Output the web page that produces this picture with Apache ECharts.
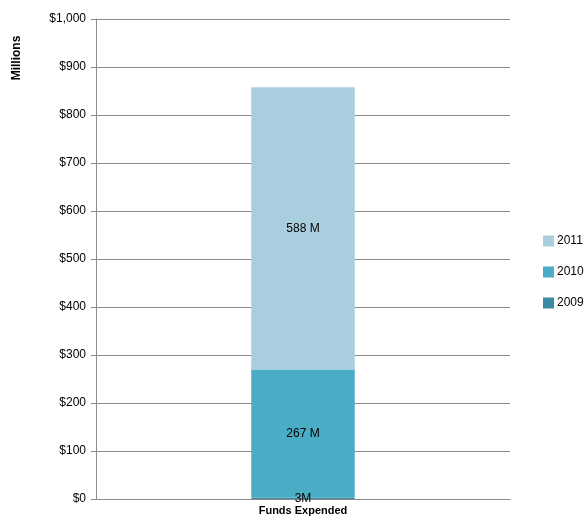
<!DOCTYPE html>
<html>
<head>
<meta charset="utf-8">
<script src="https://cdn.jsdelivr.net/npm/echarts@6/dist/echarts.min.js"></script>
<style>
  html, body { margin: 0; padding: 0; background: #fff; }
  #chart { width: 585px; height: 521px; }
</style>
</head>
<body>
<div id="chart"></div>
<script>
// 数据
const categories = ['Funds Expended'];
const seriesNames = ['2009', '2010', '2011'];
const values2009 = [3];
const values2010 = [267];
const values2011 = [588];
const labelFmt = { '2009': '3M', '2010': '267 M', '2011': '588 M' };
const colors = { '2009': '#3A8CA3', '2010': '#4BACC6', '2011': '#A9CEDD' };

const dataMap = { '2009': values2009, '2010': values2010, '2011': values2011 };
const font = 'Liberation Sans, Arial, sans-serif';

const myChart = echarts.init(document.getElementById('chart'));
let option = {
  animation: false,
  textStyle: { fontFamily: font },
  grid: { left: 96, right: 75, top: 19, bottom: 22 },
  legend: {
    orient: 'vertical',
    left: 538,
    top: 230,
    itemWidth: 11,
    itemHeight: 11,
    itemGap: 19,
    icon: 'rect',
    data: ['2011', '2010', '2009'],
    textStyle: { fontSize: 12, color: '#000', padding: [0, 0, 0, -2], fontFamily: font }
  },
  xAxis: {
    type: 'category',
    data: categories,
    axisLine: { lineStyle: { color: '#8c8c8c' } },
    axisTick: { show: false },
    axisLabel: { color: '#000', fontWeight: 'bold', fontSize: 11, margin: 6 }
  },
  yAxis: {
    type: 'value',
    min: 0,
    max: 1000,
    interval: 100,
    axisLine: { show: true, lineStyle: { color: '#8c8c8c' } },
    axisTick: { show: true, inside: false, length: 5, lineStyle: { color: '#8c8c8c' } },
    splitLine: { lineStyle: { color: '#8c8c8c' } },
    axisLabel: {
      color: '#000',
      fontSize: 12,
      margin: 10,
      formatter: v => '$' + v.toLocaleString('en-US')
    }
  },
  graphic: [{
    type: 'text',
    x: 17,
    y: 58,
    rotation: Math.PI / 2,
    style: {
      text: 'Millions',
      font: 'bold 12px ' + font,
      fill: '#000',
      align: 'center',
      verticalAlign: 'middle'
    }
  }],
  series: seriesNames.map(name => ({
    name: name,
    type: 'bar',
    stack: 'total',
    barWidth: '25%',
    itemStyle: { color: colors[name] },
    label: {
      show: true,
      position: 'inside',
      color: '#000',
      fontSize: 12,
      formatter: () => labelFmt[name]
    },
    data: dataMap[name]
  }))
};
myChart.setOption(option, true);
</script>
</body>
</html>
